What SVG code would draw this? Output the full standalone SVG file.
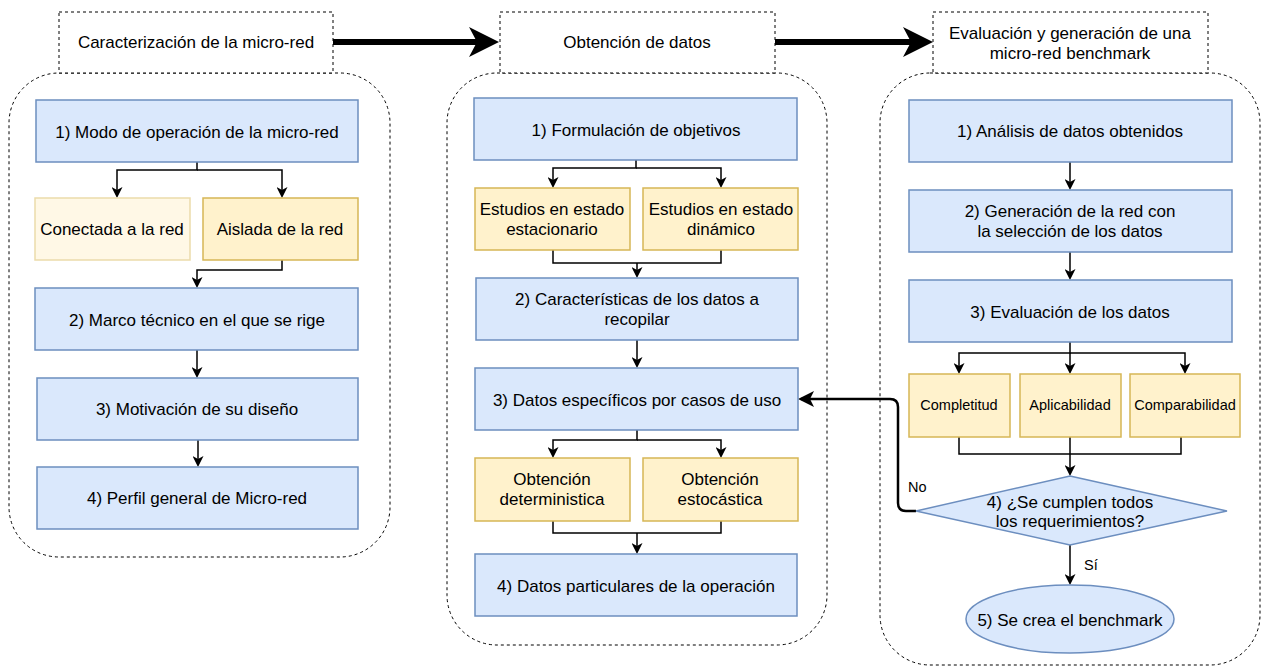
<svg xmlns="http://www.w3.org/2000/svg" width="1264" height="667" viewBox="0 0 1264 667">
<style>
text{font-family:"Liberation Sans",Arial,Helvetica,sans-serif;font-size:17px;fill:#000;text-anchor:middle}
.sm{font-size:14.5px}
.lbl{font-size:14.5px;text-anchor:start}
.blue{fill:#dae8fc;stroke:#6c8ebf;stroke-width:1.5}
.yel{fill:#fff2cc;stroke:#d6b656;stroke-width:1.5}
.yelf{fill:#fff8e6;stroke:#ebdbab;stroke-width:1.5}
.hdr{fill:#fff;stroke:#000;stroke-width:1;stroke-dasharray:3 3}
.cont{fill:none;stroke:#000;stroke-width:1;stroke-dasharray:3 3}
.con{fill:none;stroke:#000;stroke-width:1.5;marker-end:url(#a)}
.conn{fill:none;stroke:#000;stroke-width:1.5}
.big{fill:none;stroke:#000;stroke-width:6;marker-end:url(#big)}
.no{fill:none;stroke:#000;stroke-width:2.5;marker-end:url(#am)}
</style>
<defs>
<marker id="a" viewBox="0 0 11 11" refX="8" refY="5.5" markerWidth="11" markerHeight="11" markerUnits="userSpaceOnUse" orient="auto"><path d="M0,0 L11,5.5 L0,11 L3,5.5 z" fill="#000"/></marker>
<marker id="am" viewBox="0 0 16 16" refX="13" refY="8" markerWidth="16" markerHeight="16" markerUnits="userSpaceOnUse" orient="auto"><path d="M0,0 L16,8 L0,16 L4,8 z" fill="#000"/></marker>
<marker id="big" viewBox="0 0 30 30" refX="16" refY="15" markerWidth="30" markerHeight="30" markerUnits="userSpaceOnUse" orient="auto"><path d="M0,0 L30,15 L0,30 L8,15 z" fill="#000"/></marker>
</defs>

<g id="containers">
<rect class="cont" x="9" y="73" width="381" height="484" rx="50" ry="50"/>
<rect class="cont" x="447" y="73" width="380" height="572" rx="50" ry="50"/>
<rect class="cont" x="880" y="73" width="380" height="592" rx="50" ry="50"/>
</g>

<g id="connectors">
<path class="big" d="M333,42 H485"/>
<path class="big" d="M775,42 H919"/>
<!-- left -->
<path class="con" d="M197,162 V170 H117 V195"/>
<path class="con" d="M197,170 H282 V195"/>
<path class="con" d="M282,260 V270 H197 V285"/>
<path class="con" d="M197,350 V375"/>
<path class="con" d="M198,440 V464"/>
<!-- middle -->
<path class="con" d="M636,160 V168 H553 V185"/>
<path class="con" d="M636,168 H721 V185"/>
<path class="conn" d="M553,250 V263 H721 V250"/>
<path class="con" d="M637,263 V275"/>
<path class="con" d="M637,340 V365"/>
<path class="con" d="M637,430 V440 H553 V455"/>
<path class="con" d="M637,440 H721 V455"/>
<path class="conn" d="M553,521 V533 H721 V521"/>
<path class="con" d="M637,533 V551"/>
<!-- right -->
<path class="con" d="M1070,162 V187"/>
<path class="con" d="M1070,252 V277"/>
<path class="con" d="M1070,342 V353 H959 V371"/>
<path class="con" d="M1070,353 H1185 V371"/>
<path class="con" d="M1070,353 V371"/>
<path class="conn" d="M959,437 V454 H1181 V437"/>
<path class="con" d="M1070,437 V473"/>
<path class="con" d="M1070,545 V582"/>
<path class="no" d="M916,511 H906 Q898,511 898,503 V407 Q898,399 890,399 H801"/>
<text class="lbl" x="908" y="492">No</text>
<text class="lbl" x="1084" y="570">Sí</text>
</g>

<g id="h1"><rect class="hdr" x="59" y="12" width="274" height="61"/><text x="196" y="48">Caracterización de la micro-red</text></g>
<g id="h2"><rect class="hdr" x="500" y="12" width="275" height="61"/><text x="637" y="48">Obtención de datos</text></g>
<g id="h3"><rect class="hdr" x="933" y="12" width="275" height="61"/><text x="1070" y="39">Evaluación y generación de una</text><text x="1070" y="59">micro-red benchmark</text></g>

<g id="l1"><rect class="blue" x="36" y="100" width="322" height="62"/><text x="197" y="138">1) Modo de operación de la micro-red</text></g>
<g id="l1a"><rect class="yelf" x="35" y="198" width="155" height="62"/><text x="112" y="235">Conectada a la red</text></g>
<g id="l1b"><rect class="yel" x="203" y="198" width="155" height="62"/><text x="280" y="235">Aislada de la red</text></g>
<g id="l2"><rect class="blue" x="35" y="288" width="323" height="62"/><text x="197" y="326">2) Marco técnico en el que se rige</text></g>
<g id="l3"><rect class="blue" x="37" y="378" width="321" height="62"/><text x="197" y="415">3) Motivación de su diseño</text></g>
<g id="l4"><rect class="blue" x="37" y="467" width="321" height="62"/><text x="197" y="504">4) Perfil general de Micro-red</text></g>

<g id="m1"><rect class="blue" x="474" y="98" width="323" height="62"/><text x="636" y="136">1) Formulación de objetivos</text></g>
<g id="m1a"><rect class="yel" x="475" y="188" width="155" height="62"/><text x="552" y="215">Estudios en estado</text><text x="552" y="235">estacionario</text></g>
<g id="m1b"><rect class="yel" x="643" y="188" width="155" height="62"/><text x="721" y="215">Estudios en estado</text><text x="721" y="235">dinámico</text></g>
<g id="m2"><rect class="blue" x="476" y="278" width="322" height="62"/><text x="637" y="305">2) Características de los datos a</text><text x="637" y="325">recopilar</text></g>
<g id="m3"><rect class="blue" x="475" y="368" width="323" height="62"/><text x="637" y="406">3) Datos específicos por casos de uso</text></g>
<g id="m3a"><rect class="yel" x="475" y="458" width="155" height="63"/><text x="552" y="485">Obtención</text><text x="552" y="505">deterministica</text></g>
<g id="m3b"><rect class="yel" x="643" y="458" width="155" height="63"/><text x="720" y="485">Obtención</text><text x="720" y="505">estocástica</text></g>
<g id="m4"><rect class="blue" x="475" y="554" width="322" height="62"/><text x="636" y="592">4) Datos particulares de la operación</text></g>

<g id="r1"><rect class="blue" x="909" y="100" width="323" height="62"/><text x="1070" y="137">1) Análisis de datos obtenidos</text></g>
<g id="r2"><rect class="blue" x="909" y="190" width="323" height="62"/><text x="1070" y="217">2) Generación de la red con</text><text x="1070" y="237">la selección de los datos</text></g>
<g id="r3"><rect class="blue" x="909" y="280" width="323" height="62"/><text x="1070" y="318">3) Evaluación de los datos</text></g>
<g id="r3a"><rect class="yel" x="909" y="374" width="101" height="63"/><text class="sm" x="959" y="410">Completitud</text></g>
<g id="r3b"><rect class="yel" x="1020" y="374" width="101" height="63"/><text class="sm" x="1070" y="410">Aplicabilidad</text></g>
<g id="r3c"><rect class="yel" x="1130" y="374" width="110" height="63"/><text class="sm" x="1185" y="410">Comparabilidad</text></g>
<g id="r4"><polygon class="blue" points="1070,476 1227,511 1070,545 916,511"/><text x="1070" y="508">4) ¿Se cumplen todos</text><text x="1070" y="527">los requerimientos?</text></g>
<g id="r5"><ellipse class="blue" cx="1070" cy="619" rx="104" ry="34"/><text x="1070" y="626">5) Se crea el benchmark</text></g>
</svg>
